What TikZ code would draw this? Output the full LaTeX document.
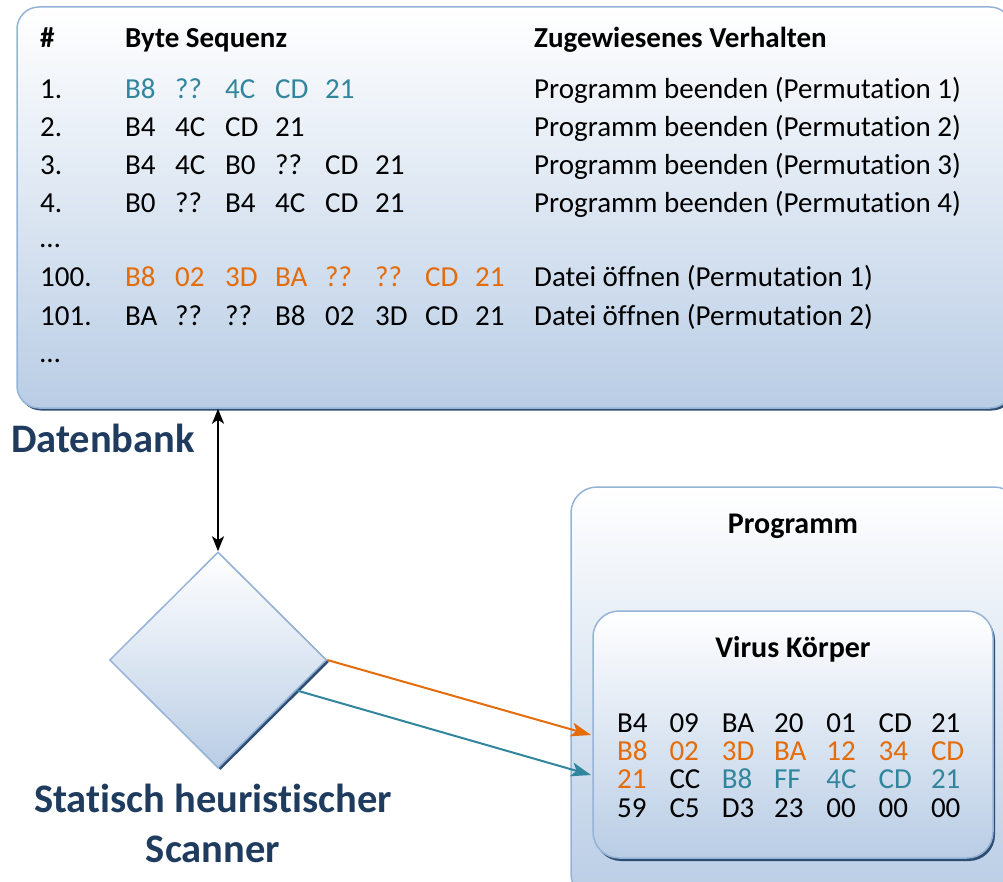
\documentclass[tikz,border=0pt]{standalone}
\usepackage{fontspec}
\setmainfont{Carlito}[Ligatures={NoCommon,NoContextual}]
\usetikzlibrary{shapes.geometric,arrows.meta,calc}
\definecolor{boxline}{HTML}{95B3D7}
\definecolor{boxbot}{HTML}{B9CDE5}
\definecolor{shadowc}{HTML}{2E4D72}
\definecolor{titlec}{HTML}{1F3B5E}
\definecolor{tealc}{HTML}{31859C}
\definecolor{orangec}{HTML}{E46C0A}
\newcommand{\permword}{Permutat\kern0pt ion}
\begin{document}
\begin{tikzpicture}[x=1pt,y=-1pt,
  panel/.style={draw=boxline, line width=1.5pt, top color=white, bottom color=boxbot, rounded corners=22pt, inner sep=0pt, rectangle},
  shadowbox/.style={fill=shadowc, rounded corners=22pt, inner sep=0pt, rectangle},
  txt/.style={anchor=base west, inner sep=0pt, font=\fontsize{29}{31}\selectfont},
  hdr/.style={txt, font=\fontsize{29}{31}\selectfont\bfseries},
  ctitle/.style={anchor=base, inner sep=0pt, font=\fontsize{30}{32}\selectfont\bfseries},
  bigtitle/.style={inner sep=0pt, text=titlec, font=\fontsize{40.5}{42}\selectfont\bfseries},
  conn/.style={line width=2pt, -{Stealth[length=20pt,width=14pt,inset=5pt]}},
]
\useasboundingbox (0,0) rectangle (1003,882);
% database panel
\node[shadowbox, minimum width=995pt, minimum height=401pt] (dbsh) at (516.5,210) {};
\node[panel, minimum width=995pt, minimum height=401pt] (db) at (514.5,207.5) {};
% headers
\node[hdr] (h1) at (40,48) {\#};
\node[hdr] (h2) at (125,48) {Byte Sequenz};
\node[hdr] (h3) at (534,48) {Zugewiesenes Verhalten};
% row labels
\node[txt] (n1) at (40,99) {1.};
\node[txt] (n2) at (40,137) {2.};
\node[txt] (n3) at (40,175) {3.};
\node[txt] (n4) at (40,213) {4.};
\node[txt] (n5) at (40,248) {…};
\node[txt] (n6) at (40,287) {100.};
\node[txt] (n7) at (40,325) {101.};
\node[txt] (n8) at (40,362) {…};
% byte sequences
\foreach \t [count=\i from 0] in {B8,??,4C,CD,21}
  \node[txt, text=tealc] (ra\i) at (125+50*\i,99) {\t};
\foreach \t [count=\i from 0] in {B4,4C,CD,21}
  \node[txt] (rb\i) at (125+50*\i,137) {\t};
\foreach \t [count=\i from 0] in {B4,4C,B0,??,CD,21}
  \node[txt] (rc\i) at (125+50*\i,175) {\t};
\foreach \t [count=\i from 0] in {B0,??,B4,4C,CD,21}
  \node[txt] (rd\i) at (125+50*\i,213) {\t};
\foreach \t [count=\i from 0] in {B8,02,3D,BA,??,??,CD,21}
  \node[txt, text=orangec] (re\i) at (125+50*\i,287) {\t};
\foreach \t [count=\i from 0] in {BA,??,??,B8,02,3D,CD,21}
  \node[txt] (rf\i) at (125+50*\i,325) {\t};
% behaviours
\node[txt] (v1) at (534,99) {Programm beenden (\permword{} 1)};
\node[txt] (v2) at (534,137) {Programm beenden (\permword{} 2)};
\node[txt] (v3) at (534,175) {Programm beenden (\permword{} 3)};
\node[txt] (v4) at (534,213) {Programm beenden (\permword{} 4)};
\node[txt] (v6) at (534,287) {Datei öffnen (\permword{} 1)};
\node[txt] (v7) at (534,325) {Datei öffnen (\permword{} 2)};
% Datenbank label
\node[bigtitle, anchor=base] (dbl) at (103,452) {Datenbank};
% diamond scanner
\node[diamond, fill=shadowc, inner sep=0pt, minimum width=217pt, minimum height=216pt] (diash) at (220.5,662) {};
\node[diamond, draw=boxline, line width=1.5pt, top color=white, bottom color=boxbot, inner sep=0pt, minimum width=217pt, minimum height=216pt] (dia) at (218,660) {};
\node[bigtitle, anchor=base] (sc1) at (213,812) {Statisch heuristischer};
\node[bigtitle, anchor=base] (sc2) at (213,862) {Scanner};
% program panel
\node[panel, rounded corners=26pt, minimum width=449pt, minimum height=413pt] (prog) at (795.5,693.5) {};
\node[ctitle] (progt) at (793,533) {Programm};
\node[shadowbox, rounded corners=26pt, minimum width=400pt, minimum height=247pt] (virsh) at (795,737.5) {};
\node[panel, rounded corners=26pt, minimum width=400pt, minimum height=247pt] (virus) at (793,734.5) {};
\node[ctitle] (virt) at (793,657) {Virus Körper};
% virus bytes
\foreach \t/\c [count=\i from 0] in {B4/black,09/black,BA/black,20/black,01/black,CD/black,21/black}
  \node[txt, text=\c] (va\i) at (617+52.3*\i,732) {\t};
\foreach \t/\c [count=\i from 0] in {B8/orangec,02/orangec,3D/orangec,BA/orangec,12/orangec,34/orangec,CD/orangec}
  \node[txt, text=\c] (vb\i) at (617+52.3*\i,760) {\t};
\foreach \t/\c [count=\i from 0] in {21/orangec,CC/black,B8/tealc,FF/tealc,4C/tealc,CD/tealc,21/tealc}
  \node[txt, text=\c] (vc\i) at (617+52.3*\i,788) {\t};
\foreach \t/\c [count=\i from 0] in {59/black,C5/black,D3/black,23/black,00/black,00/black,00/black}
  \node[txt, text=\c] (vd\i) at (617+52.3*\i,817) {\t};
% connectors
\coordinate (dbin) at (db.south -| dia.north);
\draw[line width=2pt, {Stealth[length=15pt,width=12pt,inset=4pt]}-{Stealth[length=15pt,width=12pt,inset=4pt]}] (dbin) -- (dia.north);
\coordinate (oin) at (591,735);
\coordinate (tin) at (591,775);
\coordinate (tout) at ($(dia.east)!0.28!(dia.south)$);
\draw[conn, draw=orangec, fill=orangec] (dia.east) -- (oin);
\draw[conn, draw=tealc, fill=tealc] (tout) -- (tin);
\end{tikzpicture}
\end{document}
